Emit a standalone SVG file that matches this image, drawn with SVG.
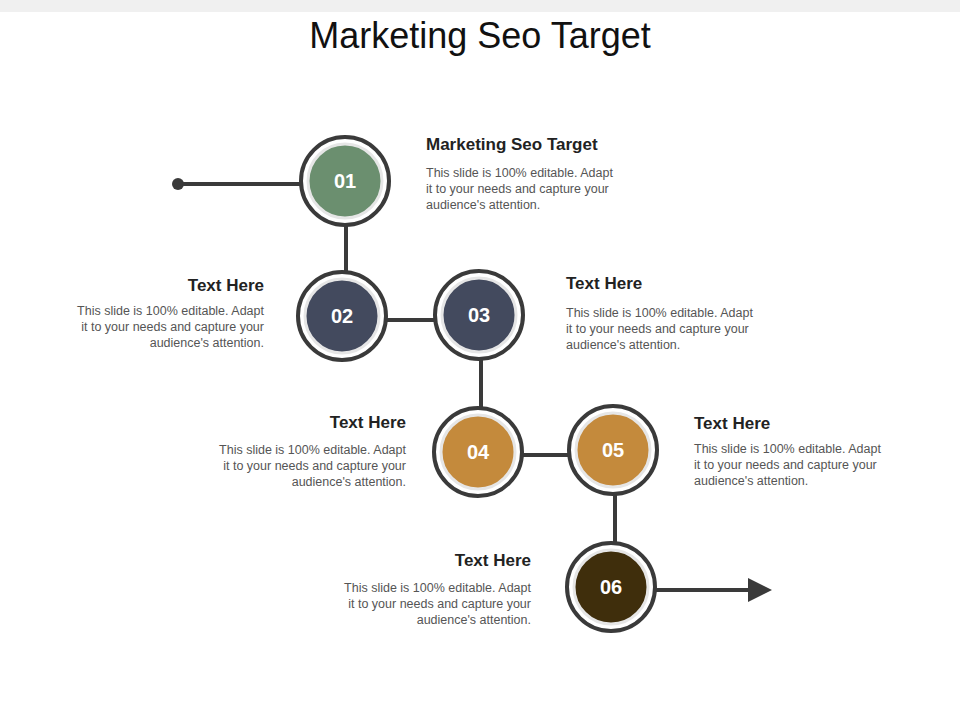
<svg xmlns="http://www.w3.org/2000/svg" width="960" height="720" viewBox="0 0 960 720">
<defs>
<style>
.ring{fill:#fff;stroke:#3a3a3a;stroke-width:4}
.num{font-family:"Liberation Sans",Arial,sans-serif;font-weight:bold;font-size:20px;fill:#fff;text-anchor:middle}
.in{stroke:#e6e6e6;stroke-width:3}
.h{font-family:"Liberation Sans",Arial,sans-serif;font-weight:bold;font-size:17px;fill:#222}
.b{font-family:"Liberation Sans",Arial,sans-serif;font-size:12.5px;fill:#555}
.r{text-anchor:end}
.ln{stroke:#3a3a3a;stroke-width:4;fill:none}
</style>
<marker id="ar" markerWidth="6" markerHeight="6" refX="5" refY="3" orient="auto" markerUnits="strokeWidth"><path d="M0,0 L6,3 L0,6z" fill="#3a3a3a"/></marker>
</defs>
<rect width="960" height="720" fill="#fff"/>
<rect width="960" height="12" fill="#f0f0f0"/>
<text x="480" y="48" text-anchor="middle" font-family="Liberation Sans,Arial,sans-serif" font-size="36" fill="#111">Marketing Seo Target</text>
<g id="connectors">
<circle cx="178" cy="184" r="6" fill="#3a3a3a"/>
<path class="ln" d="M178,184 H300"/>
<path class="ln" d="M346,226 V272"/>
<path class="ln" d="M386,320 H434"/>
<path class="ln" d="M481,360 V408"/>
<path class="ln" d="M522,455 H569"/>
<path class="ln" d="M615,495 V543"/>
<path class="ln" d="M656,590 H768" marker-end="url(#ar)"/>
</g>
<g id="n1"><circle class="ring" cx="345" cy="181" r="44"/><circle class="in" cx="345" cy="181" r="37" fill="#6b8f6f"/><text class="num" x="345" y="188">01</text>
<text class="h" x="426" y="150">Marketing Seo Target</text>
<text class="b" x="426" y="177">This slide is 100% editable. Adapt</text><text class="b" x="426" y="193">it to your needs and capture your</text><text class="b" x="426" y="209">audience's attention.</text></g>
<g id="n2"><circle class="ring" cx="342" cy="316" r="44"/><circle class="in" cx="342" cy="316" r="37" fill="#434a5e"/><text class="num" x="342" y="323">02</text>
<text class="h r" x="264" y="291">Text Here</text>
<text class="b r" x="264" y="315">This slide is 100% editable. Adapt</text><text class="b r" x="264" y="331">it to your needs and capture your</text><text class="b r" x="264" y="347">audience's attention.</text></g>
<g id="n3"><circle class="ring" cx="479" cy="315" r="44"/><circle class="in" cx="479" cy="315" r="37" fill="#434a5e"/><text class="num" x="479" y="322">03</text>
<text class="h" x="566" y="289">Text Here</text>
<text class="b" x="566" y="317">This slide is 100% editable. Adapt</text><text class="b" x="566" y="333">it to your needs and capture your</text><text class="b" x="566" y="349">audience's attention.</text></g>
<g id="n4"><circle class="ring" cx="478" cy="452" r="44"/><circle class="in" cx="478" cy="452" r="37" fill="#c48a3c"/><text class="num" x="478" y="459">04</text>
<text class="h r" x="406" y="428">Text Here</text>
<text class="b r" x="406" y="454">This slide is 100% editable. Adapt</text><text class="b r" x="406" y="470">it to your needs and capture your</text><text class="b r" x="406" y="486">audience's attention.</text></g>
<g id="n5"><circle class="ring" cx="613" cy="450" r="44"/><circle class="in" cx="613" cy="450" r="37" fill="#c48a3c"/><text class="num" x="613" y="457">05</text>
<text class="h" x="694" y="429">Text Here</text>
<text class="b" x="694" y="453">This slide is 100% editable. Adapt</text><text class="b" x="694" y="469">it to your needs and capture your</text><text class="b" x="694" y="485">audience's attention.</text></g>
<g id="n6"><circle class="ring" cx="611" cy="587" r="44"/><circle class="in" cx="611" cy="587" r="37" fill="#3f2e0c"/><text class="num" x="611" y="594">06</text>
<text class="h r" x="531" y="566">Text Here</text>
<text class="b r" x="531" y="592">This slide is 100% editable. Adapt</text><text class="b r" x="531" y="608">it to your needs and capture your</text><text class="b r" x="531" y="624">audience's attention.</text></g>
</svg>
